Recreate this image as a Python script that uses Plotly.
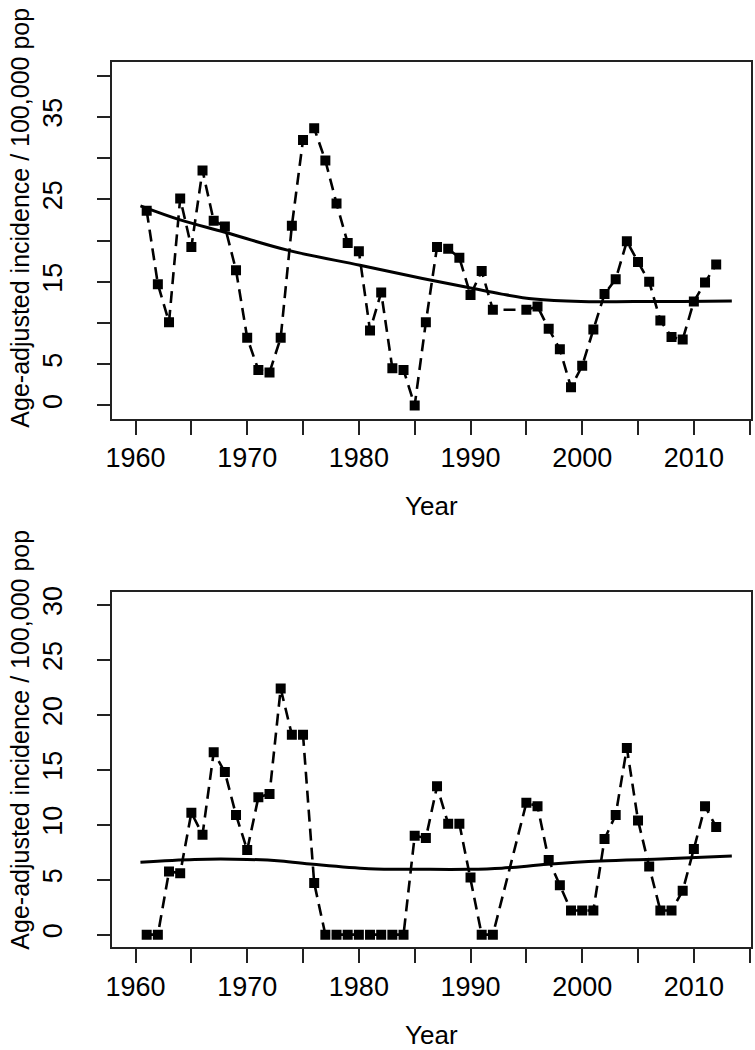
import plotly.graph_objects as go

# ---- data ----
years = [1961, 1962, 1963, 1964, 1965, 1966, 1967, 1968, 1969, 1970,
         1971, 1972, 1973, 1974, 1975, 1976, 1977, 1978, 1979, 1980,
         1981, 1982, 1983, 1984, 1985, 1986, 1987, 1988, 1989, 1990,
         1991, 1992, 1995, 1996, 1997, 1998, 1999, 2000, 2001, 2002,
         2003, 2004, 2005, 2006, 2007, 2008, 2009, 2010, 2011, 2012]

top_values = [23.6, 14.7, 10.1, 25.1, 19.2, 28.5, 22.4, 21.7, 16.4, 8.2,
              4.3, 4.0, 8.2, 21.8, 32.2, 33.6, 29.7, 24.5, 19.7, 18.7,
              9.1, 13.7, 4.5, 4.3, 0.0, 10.1, 19.2, 19.0, 17.9, 13.4,
              16.3, 11.6, 11.6, 12.0, 9.3, 6.8, 2.2, 4.8, 9.2, 13.5,
              15.3, 19.9, 17.4, 15.0, 10.3, 8.3, 8.0, 12.6, 14.9, 17.1]

bottom_values = [0.0, 0.0, 5.75, 5.6, 11.1, 9.1, 16.6, 14.8, 10.9, 7.7,
                 12.5, 12.8, 22.4, 18.2, 18.2, 4.7, 0.0, 0.0, 0.0, 0.0,
                 0.0, 0.0, 0.0, 0.0, 9.0, 8.8, 13.5, 10.1, 10.1, 5.2,
                 0.0, 0.0, 12.0, 11.7, 6.8, 4.5, 2.2, 2.2, 2.2, 8.7,
                 10.9, 17.0, 10.4, 6.2, 2.2, 2.2, 4.0, 7.8, 11.7, 9.8]

top_fit_years = [1960.44, 1964, 1968, 1973.7, 1980.1, 1985.7, 1989.8, 1992.8,
                 1995.7, 1999.9, 2004.6, 2009, 2013.4]
top_fit_values = [24.2, 22.5, 21.0, 18.8, 17.0, 15.4, 14.3, 13.5,
                  12.9, 12.6, 12.6, 12.6, 12.65]

bottom_fit_years = [1960.44, 1965.3, 1970, 1973, 1975.9, 1980.9, 1985.7, 1989.8,
                    1992.8, 1996.9, 2001.6, 2007.5, 2013.4]
bottom_fit_values = [6.6, 6.85, 6.85, 6.7, 6.4, 6.0, 5.95, 5.95,
                     6.05, 6.4, 6.7, 6.9, 7.15]

x_tickvals = [1960, 1965, 1970, 1975, 1980, 1985, 1990, 1995, 2000, 2005, 2010, 2015]
x_ticktext = ["1960", "", "1970", "", "1980", "", "1990", "", "2000", "", "2010", ""]
top_tickvals = [0, 5, 10, 15, 20, 25, 30, 35, 40]
top_ticktext = ["0", "5", "", "15", "", "25", "", "35", ""]
bottom_tickvals = [0, 5, 10, 15, 20, 25, 30]
bottom_ticktext = ["0", "5", "10", "15", "20", "25", "30"]

x_title = "Year"
y_title = "Age-adjusted incidence / 100,000 pop"

# ---- figure ----
FONT = "Liberation Sans, Arial, Helvetica, sans-serif"
W, H = 755, 1050
AX_COLOR = "#222222"

fig = go.Figure()

def add_panel(xa, ya, vals, fy, fv):
    fig.add_trace(go.Scatter(
        x=years, y=vals, mode="lines+markers", xaxis=xa, yaxis=ya,
        line=dict(color="black", width=2.6, dash="12px,7px"),
        marker=dict(symbol="square", size=10, color="black"),
        showlegend=False, hoverinfo="x+y"))
    fig.add_trace(go.Scatter(
        x=fy, y=fv, mode="lines", xaxis=xa, yaxis=ya,
        line=dict(color="black", width=3, shape="spline", smoothing=1.0),
        showlegend=False, hoverinfo="skip"))

add_panel("x", "y", top_values, top_fit_years, top_fit_values)
add_panel("x2", "y2", bottom_values, bottom_fit_years, bottom_fit_values)

# panel pixel geometry
left, right = 106.7, 751.0
top1, bot1 = 56.7, 415.0
top2, bot2 = 589.3, 946.7

def fx(px):
    return px / W

def fy_(py):
    return 1 - py / H

common_x = dict(
    range=[1957.88, 2015.12], tickmode="array", tickvals=x_tickvals, ticktext=x_ticktext,
    ticks="outside", ticklen=14, tickwidth=1.6, tickcolor=AX_COLOR,
    showline=True, linecolor=AX_COLOR, linewidth=1.8, mirror=True,
    showgrid=False, zeroline=False,
    tickfont=dict(family=FONT, size=27, color="black"),
)
common_y = dict(
    tickmode="array", ticks="outside", ticklen=13, tickwidth=1.6, tickcolor=AX_COLOR,
    showline=True, linecolor=AX_COLOR, linewidth=1.8, mirror=True,
    showgrid=False, zeroline=False, tickangle=-90, ticklabelstandoff=24,
    tickfont=dict(family=FONT, size=27, color="black"),
)

fig.update_layout(
    width=W, height=H,
    margin=dict(l=0, r=0, t=0, b=0),
    paper_bgcolor="white", plot_bgcolor="white",
    xaxis=dict(domain=[fx(left), fx(right)], anchor="y", **common_x),
    yaxis=dict(domain=[fy_(bot1), fy_(top1)], anchor="x", range=[-1.6, 41.6],
               tickvals=top_tickvals, ticktext=top_ticktext, **common_y),
    xaxis2=dict(domain=[fx(left), fx(right)], anchor="y2", **common_x),
    yaxis2=dict(domain=[fy_(bot2), fy_(top2)], anchor="x2", range=[-1.15, 31.2],
                tickvals=bottom_tickvals, ticktext=bottom_ticktext, **common_y),
)

title_font = dict(family=FONT, size=26, color="black")
ytitle_font = dict(family=FONT, size=25, color="black")
for xtitle_y, ytitle_cy in [(503, 213), (1035, 738)]:
    fig.add_annotation(text=x_title, xref="paper", yref="paper",
                       x=fx((left + right) / 2), y=fy_(xtitle_y),
                       xanchor="center", yanchor="middle", showarrow=False,
                       font=title_font)
    fig.add_annotation(text=y_title, xref="paper", yref="paper",
                       x=fx(14), y=fy_(ytitle_cy), textangle=-90,
                       xanchor="center", yanchor="middle", showarrow=False,
                       font=ytitle_font)

fig.write_html("out.html",
               config={"displayModeBar": False},
               post_script="document.body.style.margin='0px';"
                           "document.body.style.overflow='hidden';")
